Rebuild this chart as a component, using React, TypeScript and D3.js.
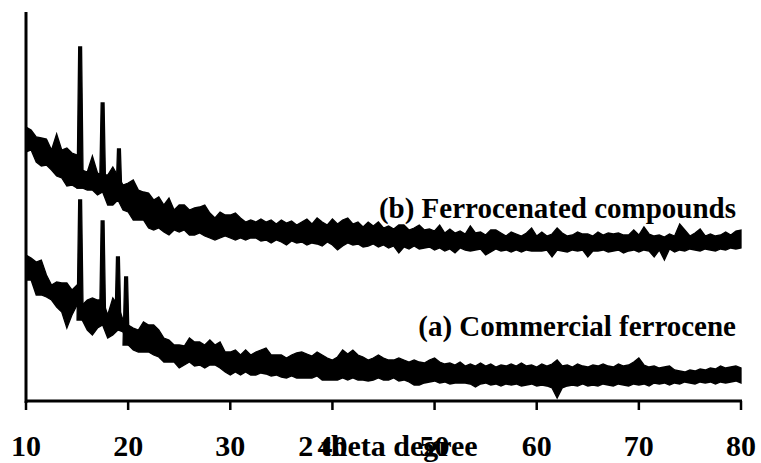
import React from 'react';
import * as d3 from 'd3';

// 2θ sampling of the two XRD traces (0.5 degree steps, 10..80)
const theta = d3.range(10, 80.001, 0.5);

const xTicks = [10, 20, 30, 40, 50, 60, 70, 80];

// (b) Ferrocenated compounds - upper / lower edge of the noise band (a.u.)
const bHi = [
  274, 271, 264, 263, 262, 251, 267, 251, 253, 248, 246, 231, 229, 245, 228, 226, 226, 234, 225, 216,
  218, 221, 211, 209, 208, 201, 204, 196, 203, 191, 196, 196, 191, 193, 194, 196, 188, 183, 189, 186,
  186, 188, 183, 179, 181, 179, 182, 179, 181, 177, 181, 178, 180, 176, 179, 182, 177, 183, 179, 176,
  182, 177, 181, 183, 177, 179, 174, 179, 175, 179, 173, 175, 172, 176, 176, 171, 173, 176, 171, 172,
  170, 176, 168, 172, 168, 170, 167, 175, 168, 169, 166, 171, 171, 168, 165, 169, 167, 165, 168, 173,
  165, 169, 165, 167, 173, 168, 165, 166, 169, 167, 167, 165, 169, 166, 168, 167, 168, 166, 166, 171,
  166, 174, 167, 165, 166, 164, 167, 165, 177, 171, 165, 168, 172, 165, 167, 165, 166, 169, 166, 170,
  171,
];
const bLo = [
  249, 251, 239, 235, 236, 231, 225, 223, 215, 216, 213, 213, 211, 211, 206, 209, 196, 196, 201, 191,
  189, 181, 181, 181, 173, 171, 173, 169, 166, 171, 169, 171, 166, 166, 168, 165, 163, 161, 163, 165,
  163, 161, 163, 161, 163, 163, 160, 161, 158, 161, 159, 156, 160, 158, 159, 156, 158, 157, 155, 159,
  156, 151, 155, 158, 156, 157, 154, 155, 157, 154, 156, 153, 155, 148, 154, 152, 155, 152, 153, 154,
  151, 153, 150, 152, 148, 153, 151, 150, 151, 152, 146, 149, 152, 150, 151, 149, 151, 149, 151, 150,
  150, 150, 151, 144, 151, 150, 149, 151, 150, 151, 144, 150, 150, 151, 149, 150, 151, 148, 150, 151,
  149, 151, 150, 144, 151, 141, 152, 149, 151, 150, 152, 151, 150, 152, 151, 150, 152, 151, 153, 152,
  153,
];
const bPeakTheta = [15.3, 17.5, 19.1];
const bPeakTop = [354, 298, 252];

// (a) Commercial ferrocene
const aHi = [
  146, 143, 139, 141, 126, 116, 119, 118, 118, 111, 116, 96, 101, 103, 101, 101, 86, 103, 96, 81,
  76, 73, 71, 79, 76, 76, 71, 63, 61, 56, 56, 55, 63, 59, 59, 56, 61, 56, 59, 49,
  49, 51, 46, 51, 46, 49, 51, 53, 46, 46, 46, 43, 46, 48, 49, 47, 45, 49, 46, 43,
  41, 44, 51, 47, 51, 46, 44, 41, 43, 46, 43, 41, 41, 43, 41, 39, 41, 39, 38, 41,
  43, 39, 37, 38, 36, 39, 35, 37, 35, 38, 35, 37, 34, 36, 35, 37, 35, 38, 35, 36,
  34, 37, 35, 37, 41, 35, 36, 34, 37, 35, 34, 36, 35, 37, 35, 34, 37, 35, 36, 39,
  43, 36, 34, 35, 33, 34, 35, 31, 30, 29, 31, 30, 32, 31, 33, 32, 35, 33, 34, 35,
  33,
];
const aLo = [
  121, 121, 106, 106, 104, 101, 94, 89, 73, 86, 96, 81, 71, 66, 73, 76, 63, 66, 71, 69,
  56, 51, 49, 49, 49, 46, 44, 39, 39, 39, 33, 36, 39, 35, 36, 33, 36, 36, 33, 29,
  26, 29, 26, 29, 26, 26, 28, 27, 25, 26, 24, 23, 25, 23, 23, 23, 23, 25, 21, 21,
  21, 21, 23, 21, 23, 21, 21, 20, 21, 23, 21, 21, 23, 20, 21, 19, 16, 16, 18, 19,
  20, 18, 19, 17, 18, 18, 18, 17, 14, 17, 18, 16, 17, 15, 17, 16, 17, 15, 16, 17,
  15, 16, 15, 13, 3, 13, 15, 16, 15, 17, 15, 16, 15, 17, 16, 15, 17, 16, 15, 17,
  16, 17, 15, 18, 17, 18, 16, 18, 17, 19, 18, 17, 19, 18, 19, 17, 19, 18, 19, 20,
  18,
];
const aPeakTheta = [15.3, 17.5, 19.0, 19.8];
const aPeakTop = [201, 180, 144, 124];

const W = 761;
const H = 463;
const font = '"Liberation Serif", "Times New Roman", serif';

const x = d3.scaleLinear().domain([10, 80]).range([26, 741]);
const y = d3.scaleLinear().domain([0, 389]).range([401, 12]);

const band = (hi: number[], lo: number[]) =>
  d3
    .area<number>()
    .x((t) => x(t))
    .y0((_, i) => y(lo[i]))
    .y1((_, i) => y(hi[i]))(theta) || '';

// narrow spike standing on the band
const spike = (t: number, top: number, lo: number[]) => {
  const i = Math.round((t - 10) / 0.5);
  const base = lo[Math.max(0, Math.min(lo.length - 1, i))];
  const pts: [number, number][] = [
    [t - 0.3, base],
    [t - 0.14, top],
    [t + 0.14, top],
    [t + 0.3, base],
  ];
  return d3.line<[number, number]>().x((d) => x(d[0])).y((d) => y(d[1]))(pts) + 'Z';
};

const Trace = ({ hi, lo, peaks, tops }: { hi: number[]; lo: number[]; peaks: number[]; tops: number[] }) => (
  <g fill="#000" stroke="#000" strokeWidth={1.3} strokeLinejoin="miter">
    <path d={band(hi, lo)} />
    {peaks.map((p, i) => (
      <path key={i} d={spike(p, tops[i], lo)} />
    ))}
  </g>
);

export default function App() {
  const y0 = y(0);
  return (
    <svg
      width={W}
      height={H}
      style={{ position: 'absolute', left: 0, top: 0, background: '#fff' }}
    >
      <Trace hi={bHi} lo={bLo} peaks={bPeakTheta} tops={bPeakTop} />
      <Trace hi={aHi} lo={aLo} peaks={aPeakTheta} tops={aPeakTop} />

      {/* axes */}
      <line x1={x(10)} x2={x(10)} y1={y(389)} y2={y0 + 2} stroke="#000" strokeWidth={3} />
      <line x1={x(10) - 1} x2={x(80) + 1} y1={y0} y2={y0} stroke="#000" strokeWidth={3} />
      {xTicks.map((t) => (
        <g key={t}>
          <line x1={x(t)} x2={x(t)} y1={y0} y2={y0 + 9} stroke="#000" strokeWidth={2.5} />
          <text
            x={x(t)}
            y={456}
            textAnchor="middle"
            fontFamily={font}
            fontWeight="bold"
            fontSize={30}
            fill="#000"
          >
            {t}
          </text>
        </g>
      ))}
      <text x={388} y={456} textAnchor="middle" fontFamily={font} fontWeight="bold" fontSize={30} fill="#000">
        2 theta degree
      </text>

      <text x={736} y={218} textAnchor="end" fontFamily={font} fontWeight="bold" fontSize={29} fill="#000">
        (b) Ferrocenated compounds
      </text>
      <text x={736} y={336} textAnchor="end" fontFamily={font} fontWeight="bold" fontSize={29} fill="#000">
        (a) Commercial ferrocene
      </text>
    </svg>
  );
}
